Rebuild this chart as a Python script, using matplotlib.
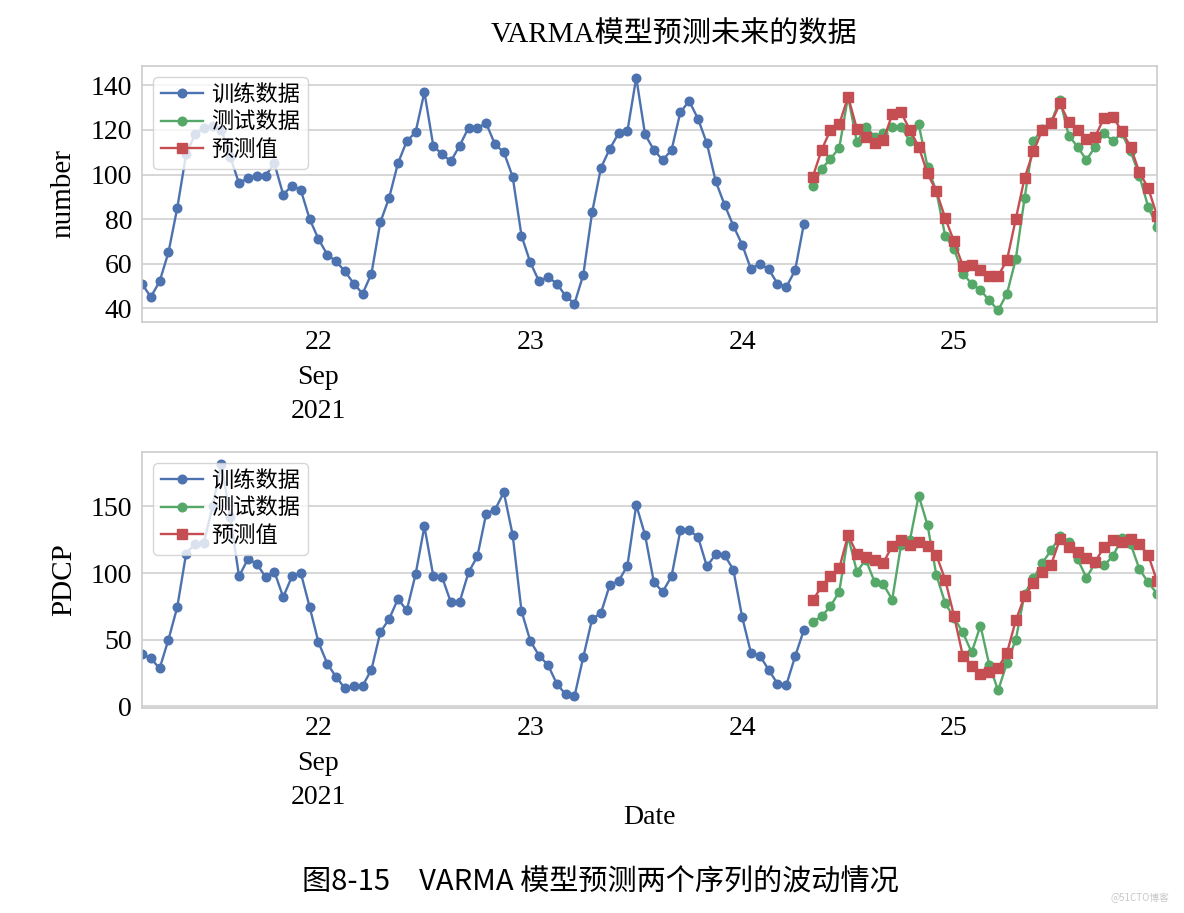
import pandas as pd
import matplotlib
matplotlib.use('Agg')
import matplotlib.pyplot as plt
import matplotlib.dates as mdates
from datetime import datetime

plt.rcParams['font.family'] = ['Liberation Serif', 'Noto Sans CJK SC']
plt.rcParams['axes.unicode_minus'] = False

# hourly index: training part, then test / forecast part
train_idx = pd.date_range('2021-09-21 04:00', periods=76, freq='h')
test_idx = pd.date_range('2021-09-24 08:00', periods=40, freq='h')

number_train = [51, 45, 52, 65, 85, 109, 118, 121, 122, 120, 108, 96, 98.5, 99.5, 99.5, 105,
                91, 95, 93, 80, 71, 64, 61, 56.5, 51, 46.5, 55.5, 78.5, 89.5, 105, 115, 119,
                137, 113, 109, 106, 113, 121, 121, 123, 113.5, 110, 99, 72.5, 60.5, 52, 54, 51,
                45.5, 42, 55, 83, 103, 111.5, 118.5, 119.5, 143.5, 118, 111, 106.5, 111, 128,
                133, 125, 114, 97, 86.5, 77, 68.5, 57.5, 60, 57.5, 51, 49.5, 57, 78]
number_test = [95, 102.5, 107, 112, 135, 114.5, 121.5, 117, 118.5, 121.5, 121.5, 115, 122.5,
               103.5, 92.5, 72.5, 66.5, 55.5, 51, 48, 43.5, 39, 46.5, 62, 89.5, 115, 120.5,
               123.5, 133.5, 117.5, 112.5, 106.5, 112.5, 118.5, 115, 118.5, 110.5, 99.5, 85.5, 76.5]
number_pred = [99, 111, 120, 122.5, 135, 120.5, 117, 114, 115.5, 127, 128, 120, 112.5, 100.5,
               92.5, 80.5, 70, 59, 59.5, 57, 54.5, 54.5, 61.5, 80, 98.5, 110.5, 120, 123, 132,
               123.5, 120, 116, 117, 125.5, 126, 119.5, 112.5, 101, 94, 81.5]

pdcp_train = [39.5, 36, 28.5, 50, 74.5, 114.5, 122, 122.5, 150, 182, 142, 97.5, 110.5, 107, 97,
              101, 82, 97.5, 100, 74.5, 48, 32, 22, 13.5, 15, 15.5, 27.5, 55.5, 65.5, 80.5, 72,
              99, 135, 98, 97, 78, 78.5, 100.5, 112.5, 144.5, 147.5, 160.5, 128.5, 71.5, 49, 38,
              31, 17, 9, 7.5, 37, 65.5, 70, 91, 94, 105.5, 151, 128.5, 93, 86, 97.5, 132, 132,
              127, 105, 114, 113.5, 102.5, 67, 40, 38, 27.5, 17, 16, 37.5, 57.5]
pdcp_test = [63.5, 67.5, 75, 86, 127.5, 101, 110, 93.5, 91.5, 80, 121, 124.5, 158, 136, 98.5,
             77.5, 66.5, 55.5, 40.5, 60.5, 31, 12, 32.5, 50, 84.5, 96, 107.5, 117, 127.5, 123.5,
             110.5, 96.5, 107.5, 106, 112.5, 126, 122, 103, 93, 84.5]
pdcp_pred = [79.5, 90, 98, 103.5, 128.5, 114.5, 112, 110, 107.5, 120.5, 124.5, 121, 123, 120.5,
             113.5, 95, 68, 38, 30.5, 24.5, 25.5, 29, 40, 64.5, 82.5, 92.5, 100.5, 106, 125.5,
             119.5, 115.5, 111, 108.5, 119.5, 124.5, 123.5, 125.5, 121.5, 113.5, 94]

tick_days = [datetime(2021, 9, d) for d in (22, 23, 24, 25)]
tick_labels = ['22\nSep\n2021', '23', '24', '25']

fig = plt.figure(figsize=(11.84, 9.13), dpi=100)
ax1 = fig.add_axes([0.1199, 0.6473, 0.8573, 0.2804])
ax2 = fig.add_axes([0.1199, 0.2245, 0.8573, 0.2804])

series = [(ax1, number_train, number_test, number_pred, 'number'),
          (ax2, pdcp_train, pdcp_test, pdcp_pred, 'PDCP')]

for ax, tr, te, pr, name in series:
    ax.plot(train_idx, tr, color='#4C72B0', marker='o', ms=6.2, lw=1.7, label='训练数据')
    ax.plot(test_idx, te, color='#55A868', marker='o', ms=6.2, lw=1.7, label='测试数据')
    ax.plot(test_idx, pr, color='#C44E52', marker='s', ms=6.5, lw=1.7, label='预测值')
    ax.set_xlim(train_idx[0], test_idx[-1])
    ax.set_xticks(mdates.date2num(tick_days))
    ax.set_xticklabels(tick_labels, fontsize=20, linespacing=1.5)
    ax.tick_params(axis='both', length=0, labelsize=20, pad=7)
    ax.tick_params(axis='x', pad=6)
    ax.grid(axis='y', color='#d0d0d0', lw=1.2)
    ax.set_axisbelow(True)
    for sp in ax.spines.values():
        sp.set_color('#cccccc')
        sp.set_linewidth(1.2)
    ax.set_ylabel(name, fontsize=21, labelpad=10)
    ax.legend(loc='upper left', fontsize=16, labelspacing=0.3, handlelength=1.9,
              handletextpad=0.35, borderpad=0.35, borderaxespad=0.5, framealpha=0.8,
              edgecolor='#cccccc')

ax1.set_yticks([40, 60, 80, 100, 120, 140])
ax2.set_yticks([0, 50, 100, 150])
ax2.set_xlabel('Date', fontsize=20, labelpad=-4)

fig.text(0.569, 0.962, 'VARMA模型预测未来的数据', fontsize=21, ha='center', va='center')
fig.text(0.507, 0.033, '图8-15\u3000VARMA 模型预测两个序列的波动情况', fontsize=21,
         ha='center', va='center', family='Noto Sans CJK SC', weight='medium')
fig.text(0.988, 0.016, '@51CTO博客', fontsize=7, color='#c8c8c8', ha='right', va='center',
         family='Noto Sans CJK SC')

fig.savefig('out.png', dpi=100)
